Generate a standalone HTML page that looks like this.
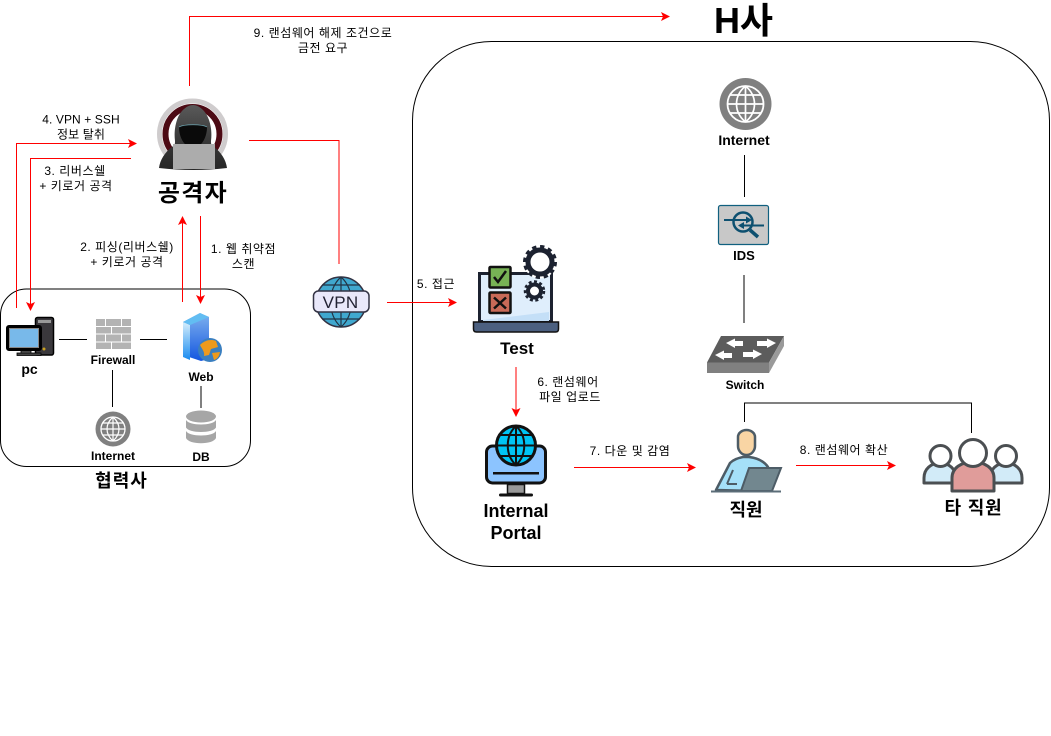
<!DOCTYPE html>
<html><head><meta charset="utf-8">
<style>
html,body{margin:0;padding:0;background:#fff;width:1051px;height:736px;overflow:hidden}
svg{display:block}
text{font-family:"Liberation Sans","Noto Sans CJK KR",sans-serif;text-anchor:middle;fill:#000}
.s{font-size:12px;letter-spacing:.55px}
.b{font-size:12px;font-weight:bold}
.m{font-size:18px;font-weight:bold}
.r{fill:none;stroke:#f00;stroke-width:1}
.k{fill:none;stroke:#000;stroke-width:1}
.h{fill:#f00}
</style></head><body>
<svg width="1051" height="736" viewBox="0 0 1051 736" xmlns="http://www.w3.org/2000/svg">
<defs>
<linearGradient id="hood" x1="0" y1="0" x2="0" y2="1"><stop offset="0" stop-color="#5a5a5a"/><stop offset=".5" stop-color="#3a3a3a"/><stop offset="1" stop-color="#262626"/></linearGradient>
<linearGradient id="srv" x1="0" y1="0" x2="0" y2="1"><stop offset="0" stop-color="#7fb2ee"/><stop offset="1" stop-color="#1456e0"/></linearGradient>
<linearGradient id="srvl" x1="0" y1="0" x2="0" y2="1"><stop offset="0" stop-color="#d6eefc"/><stop offset="1" stop-color="#1a8cf0"/></linearGradient>
</defs>
<rect x="412.5" y="41.5" width="637" height="525" rx="79" fill="#fff" stroke="#000"/>
<rect x="0.5" y="289" width="250" height="177.500" rx="26" fill="#fff" stroke="#000"/>

<!-- black connectors -->
<path class="k" d="M59 339.500H87M140 339.500H167M112.500 370V407M201 386V408M744.500 155V197M744 275V323M744.500 422V403H971.500V433"/>

<!-- red connectors -->
<path class="r" d="M189.500 86V16.500H663"/><path class="h" d="M670 16.500l-9-4.500 2 4.500-2 4.500z"/>
<path class="r" d="M16.500 308V143.500H130"/><path class="h" d="M137 143.500l-9-4.500 2 4.500-2 4.500z"/>
<path class="r" d="M131 158.500H30.500V304"/><path class="h" d="M30.500 311l-4.500-9 4.500 2 4.500-2z"/>
<path class="r" d="M182.500 302V223"/><path class="h" d="M182.500 216l-4.500 9 4.500-2 4.500 2z"/>
<path class="r" d="M200.500 216V297"/><path class="h" d="M200.500 304l-4.500-9 4.500 2 4.500-2z"/>
<path class="r" d="M249 140.500H339V264"/>
<path class="r" d="M387 302.500H450"/><path class="h" d="M457 302.500l-9-4.500 2 4.500-2 4.500z"/>
<path class="r" d="M516 367V410"/><path class="h" d="M516 417l-4.500-9 4.500 2 4.500-2z"/>
<path class="r" d="M574 467.500H689"/><path class="h" d="M696 467.500l-9-4.500 2 4.500-2 4.500z"/>
<path class="r" d="M796 465.500H889"/><path class="h" d="M896 465.500l-9-4.500 2 4.500-2 4.500z"/>

<!-- attacker -->
<circle cx="192.500" cy="134" r="33" fill="none" stroke="#cfcccd" stroke-width="5"/>
<circle cx="192.500" cy="134" r="27" fill="#fff" stroke="#4c0a14" stroke-width="6"/>
<path d="M159 168c1-8 6-16 13-21 3-2 3-3 3-6-1-8 0-15 2-21 3-9 10-15 16-15s13 6 16 15c2 6 3 13 2 21 0 3 0 4 3 6 7 5 12 13 13 21q-33 4-68 0z" fill="url(#hood)"/>
<path d="M179 127c5-3 23-3 28 0 0 8-3 15-8 19l-6 7-6-7c-5-4-8-11-8-19z" fill="#0a0a0a"/>
<path d="M179 127c5-3 23-3 28 0" fill="none" stroke="#6fa9b5" stroke-width=".7"/>
<rect x="173" y="144" width="42" height="25" fill="#acacac"/>

<!-- VPN globe -->
<circle cx="341" cy="302" r="25" fill="#40a8cf" stroke="#334" stroke-width="1.500"/>
<path d="M341 277v50M341 277c-14 12-14 38 0 50M341 277c14 12 14 38 0 50M322 285h38M322 319h38" fill="none" stroke="#234" stroke-width="1.200"/>
<rect x="313.500" y="291" width="55.500" height="21" rx="5" fill="#e9e8fa" stroke="#334" stroke-width="1.500"/>
<text x="340.500" y="308" style="font-size:17px;fill:#223;letter-spacing:.3px">VPN</text>

<!-- pc -->
<rect x="35.500" y="317.500" width="18" height="37.500" rx="2" fill="#3a383c" stroke="#000" stroke-width="1.500"/>
<rect x="38" y="320" width="13" height="3" fill="#999"/>
<circle cx="44" cy="349" r="1.500" fill="#c8a020"/>
<rect x="7.500" y="326.500" width="33" height="23" rx="1.500" fill="#78b9ea" stroke="#000" stroke-width="3"/>
<rect x="9.500" y="328.500" width="29" height="19" fill="none" stroke="#888"/>
<rect x="21" y="351" width="10" height="2" fill="#777" stroke="#000" stroke-width=".8"/>
<rect x="17" y="353" width="24" height="2.500" fill="#444" stroke="#000" stroke-width=".8"/>

<!-- firewall -->
<g fill="#b3b3b3">
<rect x="96" y="319" width="9" height="7"/><rect x="106" y="319" width="15" height="7"/><rect x="122" y="319" width="9" height="7"/>
<rect x="96" y="327" width="15" height="6.500"/><rect x="112" y="327" width="19" height="6.500"/>
<rect x="96" y="334.500" width="9" height="7"/><rect x="106" y="334.500" width="15" height="7"/><rect x="122" y="334.500" width="9" height="7"/>
<rect x="96" y="342.500" width="15" height="6.500"/><rect x="112" y="342.500" width="19" height="6.500"/>
</g>

<!-- web server -->
<path d="M183 322l17-9 9 4v42l-8 2-18-6z" fill="url(#srv)"/>
<path d="M183 322l7 3v35l-7-3z" fill="url(#srvl)"/>
<path d="M183 322l17-9 9 4-19 8z" fill="#62bdf2"/>
<circle cx="210" cy="350" r="12" fill="#3a7fc0"/>
<path d="M200 345c5-5 11-6 16-4l2 6-7 2-2 6-5 1c1-4-2-7-4-11zM212 353l8-1c-1 5-3 7-6 8z" fill="#ee9a1c"/>

<!-- small internet -->
<circle cx="113" cy="429" r="17.500" fill="#808080"/>
<circle cx="113" cy="429" r="12" fill="none" stroke="#fff" stroke-width="1.300"/>
<path d="M101 429h24M113 417v24M103 423h20M103 435h20M113 417c-8 7-8 17 0 24M113 417c8 7 8 17 0 24" fill="none" stroke="#fff" stroke-width="1.200"/>

<!-- DB -->
<g fill="#a6a6a6">
<ellipse cx="201" cy="416.500" rx="15" ry="6"/>
<path d="M186 420c3 6 27 6 30 0v7.500c-3 6-27 6-30 0z"/>
<path d="M186 431c3 6 27 6 30 0v7c-3 7-27 7-30 0z"/>
</g>

<!-- Test laptop -->
<rect x="479.500" y="273.500" width="72" height="48" fill="#dfeefc" stroke="#1c2230" stroke-width="3"/>
<path d="M483 320l66-8v9h-66z" fill="#c4dff7"/>
<path d="M473.500 322h85v7q0 3-3 3h-79q-3 0-3-3z" fill="#4c6080" stroke="#111" stroke-width="1.500"/>
<rect x="489.500" y="267" width="21" height="20.500" rx="1" fill="#77b255" stroke="#111" stroke-width="2.500"/>
<path d="M494 277l4 5 8-11" fill="none" stroke="#111" stroke-width="2.500"/>
<rect x="489.500" y="292.500" width="21" height="20.500" rx="1" fill="#c96a58" stroke="#111" stroke-width="2.500"/>
<path d="M494 297.500l12 11M506 297.500l-12 11" stroke="#111" stroke-width="2.500"/>
<circle cx="540" cy="262" r="16.500" fill="#fff"/>
<circle cx="540" cy="262" r="12" fill="#fff" stroke="#1c2230" stroke-width="5"/>
<circle cx="540" cy="262" r="15" fill="none" stroke="#1c2230" stroke-width="4" stroke-dasharray="4.200 3.650"/>
<circle cx="534.500" cy="291" r="6.500" fill="#fff" stroke="#1c2230" stroke-width="4"/>
<circle cx="534.500" cy="291" r="9.500" fill="none" stroke="#1c2230" stroke-width="2.500" stroke-dasharray="3 2.500"/>

<!-- Portal -->
<rect x="486.500" y="446" width="59" height="37" rx="6" fill="#8cc4ff" stroke="#111" stroke-width="3"/>
<rect x="493" y="472" width="46" height="2.500" fill="#111"/>
<path d="M507.500 484.500h17v9h-17z" fill="#999" stroke="#111" stroke-width="1.500"/>
<rect x="499" y="493.500" width="34" height="3" rx="1.500" fill="#111"/>
<circle cx="516" cy="445.500" r="19.500" fill="#00c4f4" stroke="#111" stroke-width="3"/>
<path d="M516 426v39M496.500 445.500h39M500 435h32M500 456h32M516 426c-11 10-11 29 0 39M516 426c11 10 11 29 0 39" fill="none" stroke="#111" stroke-width="2"/>

<!-- IDS -->
<rect x="718.500" y="205.500" width="50" height="39" rx="2" fill="#c8c8c8" stroke="#10607f" stroke-width="1.200"/>
<circle cx="743" cy="222" r="9.500" fill="none" stroke="#0d5070" stroke-width="2.500"/>
<path d="M750 230l8 7" stroke="#0d5070" stroke-width="3.500"/>
<path d="M724 220h24M764 225.500h-22" stroke="#0d5070" stroke-width="2"/>
<path d="M752 220l-6-3.500v7zM738 225.500l6-3.500v7z" fill="#0d5070"/>

<!-- top Internet -->
<circle cx="745.500" cy="104" r="26" fill="#808080"/>
<circle cx="745.500" cy="104" r="18" fill="none" stroke="#fff" stroke-width="1.800"/>
<path d="M727.500 104h36M745.500 86v36M730 95h31M730 113h31M745.500 86c-12 10-12 26 0 36M745.500 86c12 10 12 26 0 36" fill="none" stroke="#fff" stroke-width="1.700"/>

<!-- Switch -->
<path d="M707 362.500L721 336h63l-15 26.500z" fill="#5c5c5c"/>
<path d="M707 362.500h62v10.500h-62z" fill="#808080"/>
<path d="M769 362.500L784 336v10l-15 27z" fill="#9a9a9a"/>
<path d="M726 343l9-4.500v2.500h8v5h-8v2zM776 343l-9-4.500v2.500h-10v5h10v2zM715 355l9-4.500v2.500h8v5h-8v2zM762 354l-9-4.500v2.500h-10v5h10v2z" fill="#fff"/>

<!-- employee -->
<path d="M716 490l14-27c4-4 9-5 13-6h6c8 1 15 4 19 10l-13 24z" fill="#a5e0f8" stroke="#4d5c66" stroke-width="2.500" stroke-linejoin="round"/>
<path d="M738 437c0-4 4-7 8.500-7s8.500 3 8.500 7v9c0 4-3 9-8.500 9s-8.500-5-8.500-9z" fill="#f9d5a4" stroke="#4d5c66" stroke-width="2.500"/>
<path d="M727 484l6-14M727 484h10" stroke="#4d5c66" stroke-width="2" fill="none"/>
<path d="M741 491l8-23h32l-9 23z" fill="#72878f" stroke="#4d5c66" stroke-width="2"/>
<rect x="711" y="490.500" width="70" height="2" fill="#5b6d78"/>

<!-- other staff -->
<path d="M924 483v-5c0-9 7-15 16-15s16 6 16 15v5zM990 483v-5c0-9 7-15 16-15s16 6 16 15v5z" fill="#d2ebf8" stroke="#4b4f52" stroke-width="3" stroke-linejoin="round"/>
<circle cx="940.500" cy="456" r="10.500" fill="#fff" stroke="#4b4f52" stroke-width="3"/>
<circle cx="1006" cy="456" r="10.500" fill="#fff" stroke="#4b4f52" stroke-width="3"/>
<path d="M952 491v-13c0-10 9-16 21-16s21 6 21 16v13z" fill="#e09c9a" stroke="#4b4f52" stroke-width="3" stroke-linejoin="round"/>
<circle cx="973" cy="453" r="13.500" fill="#fff" stroke="#4b4f52" stroke-width="3"/>

<!-- labels -->
<text x="743.500" y="33" style="font-size:36px;font-weight:bold">H사</text>
<text class="s"><tspan x="323" y="37">9. 랜섬웨어 해제 조건으로</tspan><tspan x="323" y="52">금전 요구</tspan></text>
<text class="s" style="letter-spacing:.1px"><tspan x="81" y="123.500">4. VPN + SSH</tspan><tspan x="81" y="138.500">정보 탈취</tspan></text>
<text class="s"><tspan x="75" y="175">3. 리버스쉘</tspan><tspan x="76" y="190">+ 키로거 공격</tspan></text>
<text class="s"><tspan x="127" y="251">2. 피싱(리버스쉘)</tspan><tspan x="127" y="266">+ 키로거 공격</tspan></text>
<text class="s"><tspan x="243.500" y="253">1. 웹 취약점</tspan><tspan x="243.500" y="268">스캔</tspan></text>
<text x="193" y="201" style="font-size:24px;font-weight:bold;letter-spacing:1.300px">공격자</text>
<text x="436" y="288" class="s">5. 접근</text>
<text class="s"><tspan x="568" y="386">6. 랜섬웨어</tspan><tspan x="570" y="401">파일 업로드</tspan></text>
<text x="630" y="455" class="s">7. 다운 및 감염</text>
<text x="844" y="454" class="s">8. 랜섬웨어 확산</text>
<text x="29.500" y="374" style="font-size:14px;font-weight:bold">pc</text>
<text x="113" y="364" class="b">Firewall</text>
<text x="201" y="381" class="b">Web</text>
<text x="113" y="460" class="b">Internet</text>
<text x="201" y="461" class="b">DB</text>
<text x="121.500" y="487" class="m" style="letter-spacing:1px">협력사</text>
<text x="517" y="354" class="m" style="font-size:17px">Test</text>
<text class="m"><tspan x="516" y="517">Internal</tspan><tspan x="516" y="539">Portal</tspan></text>
<text x="746" y="516" class="m">직원</text>
<text x="973.500" y="514" class="m" style="letter-spacing:.8px">타 직원</text>
<text x="744" y="145" class="b" style="font-size:14px">Internet</text>
<text x="744" y="260" class="b" style="font-size:13px">IDS</text>
<text x="745" y="389" class="b">Switch</text>
</svg>
</body></html>
